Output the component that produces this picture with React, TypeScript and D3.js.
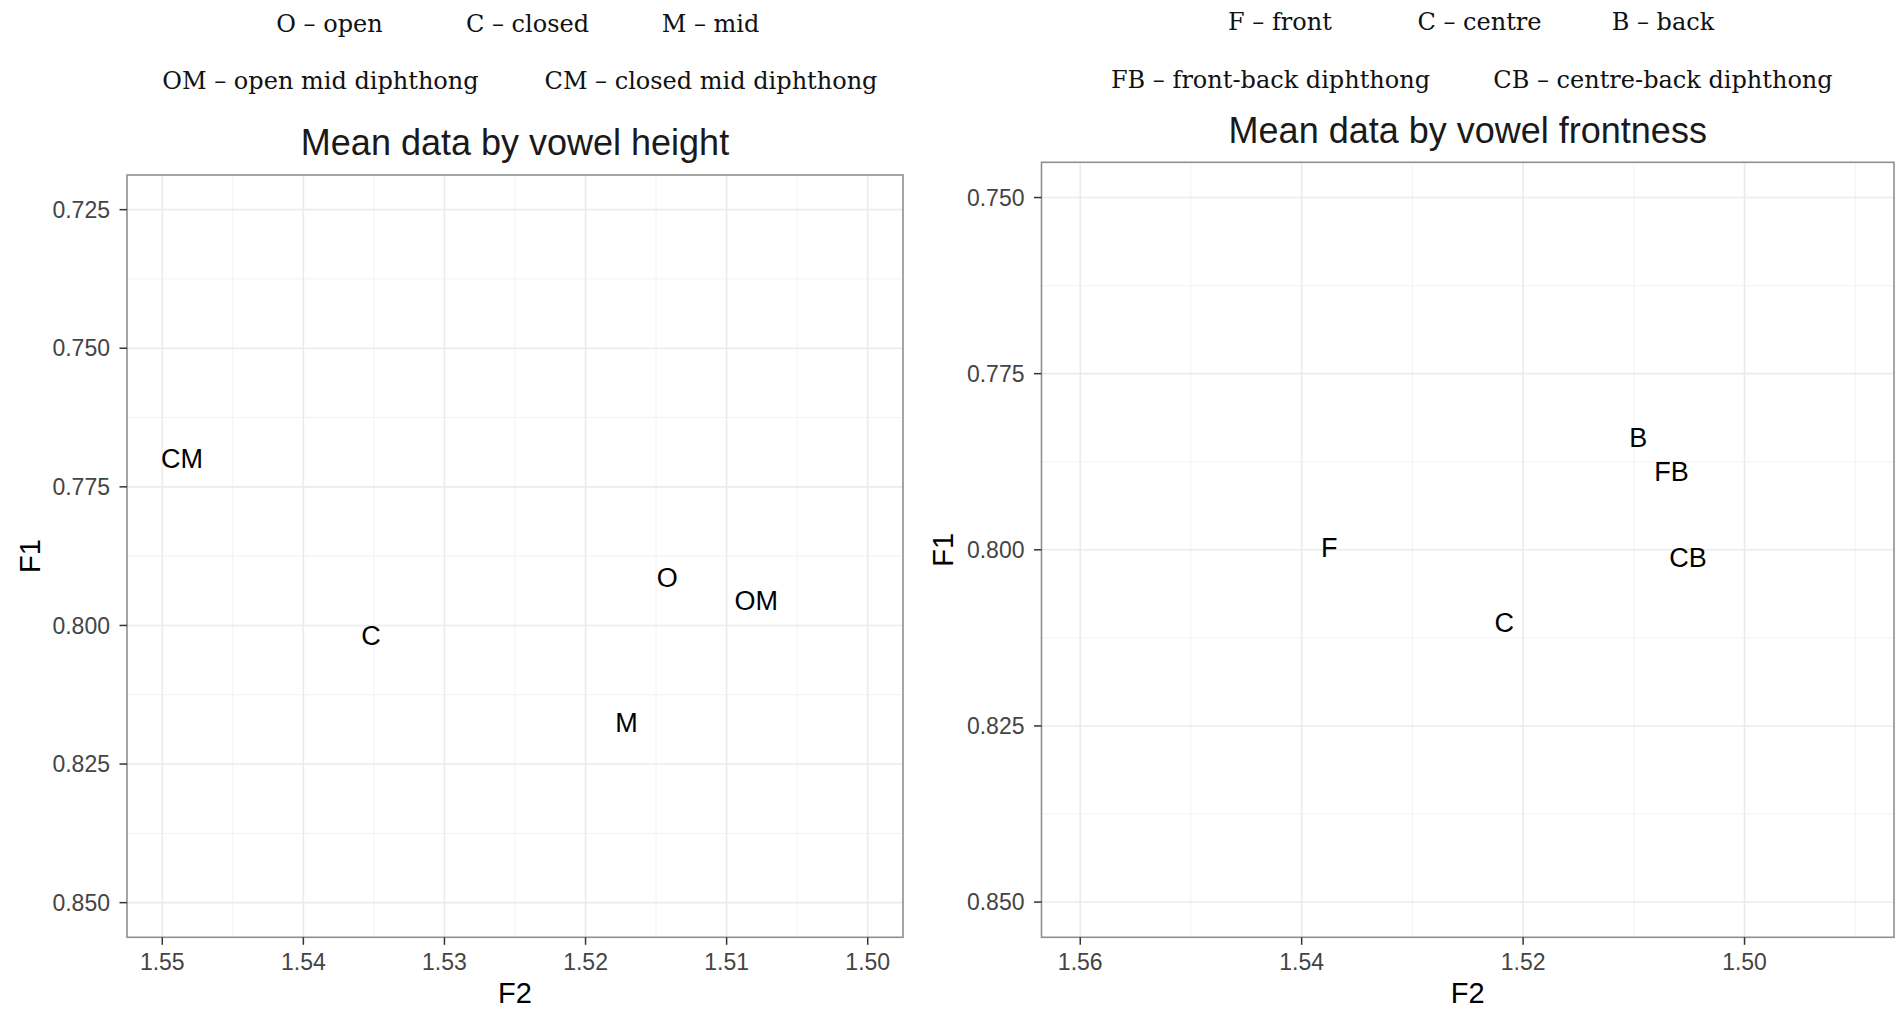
import React from "react";
import * as d3 from "d3";

// Vowel means by height category
const heightLabels = ["O", "C", "M", "OM", "CM"];
const heightF2 = [1.5142, 1.5352, 1.5171, 1.5079, 1.5486];
const heightF1 = [0.7914, 0.8018, 0.8174, 0.7954, 0.7699];

// Vowel means by frontness category
const frontLabels = ["F", "C", "B", "FB", "CB"];
const frontF2 = [1.5375, 1.5217, 1.5096, 1.5066, 1.5051];
const frontF1 = [0.7997, 0.8103, 0.784, 0.7889, 0.8011];

// Axis breaks
const heightXTicks = [1.55, 1.54, 1.53, 1.52, 1.51, 1.5];
const heightYTicks = [0.725, 0.75, 0.775, 0.8, 0.825, 0.85];
const frontXTicks = [1.56, 1.54, 1.52, 1.5];
const frontYTicks = [0.75, 0.775, 0.8, 0.825, 0.85];

// Key lines above each panel
const heightKeyRow1 = ["O – open", "C – closed", "M – mid"];
const heightKeyRow2 = ["OM – open mid diphthong", "CM – closed mid diphthong"];
const frontKeyRow1 = ["F – front", "C – centre", "B – back"];
const frontKeyRow2 = ["FB – front-back diphthong", "CB – centre-back diphthong"];

const titles = ["Mean data by vowel height", "Mean data by vowel frontness"];

const SANS = "'Liberation Sans', Arial, Helvetica, sans-serif";
const SERIF = "'DejaVu Serif', Georgia, serif";

function minorBreaks(major: number[], domain: [number, number]) {
  const step = major[1] - major[0];
  const lo = Math.min(domain[0], domain[1]);
  const hi = Math.max(domain[0], domain[1]);
  const out: number[] = [];
  const ext = [major[0] - step, ...major, major[major.length - 1] + step];
  for (let i = 0; i < ext.length - 1; i++) {
    const m = (ext[i] + ext[i + 1]) / 2;
    if (m > lo && m < hi) out.push(m);
  }
  return out;
}

type PanelProps = {
  xDomain: [number, number];
  yDomain: [number, number];
  left: number;
  right: number;
  top: number;
  bottom: number;
  xTicks: number[];
  yTicks: number[];
  labels: string[];
  xs: number[];
  ys: number[];
  title: string;
  titleY: number;
  yTitleX: number;
};

function Panel(p: PanelProps) {
  const x = d3.scaleLinear().domain(p.xDomain).range([p.left, p.right]);
  const y = d3.scaleLinear().domain(p.yDomain).range([p.top, p.bottom]);
  const xMinor = minorBreaks(p.xTicks, p.xDomain);
  const yMinor = minorBreaks(p.yTicks, p.yDomain);
  const fx = d3.format(".2f");
  const fy = d3.format(".3f");
  const tickLen = 7.5;
  const tickFont = 23;
  const labFont = 27;
  const cx = (p.left + p.right) / 2;
  const cy = (p.top + p.bottom) / 2;
  return (
    <g>
      <rect x={p.left} y={p.top} width={p.right - p.left} height={p.bottom - p.top} fill="#fff" />
      {xMinor.map((v) => (
        <line key={"xm" + v} x1={x(v)} x2={x(v)} y1={p.top} y2={p.bottom} stroke="#f2f2f2" strokeWidth={1} />
      ))}
      {yMinor.map((v) => (
        <line key={"ym" + v} x1={p.left} x2={p.right} y1={y(v)} y2={y(v)} stroke="#f2f2f2" strokeWidth={1} />
      ))}
      {p.xTicks.map((v) => (
        <line key={"xM" + v} x1={x(v)} x2={x(v)} y1={p.top} y2={p.bottom} stroke="#ebebeb" strokeWidth={1.6} />
      ))}
      {p.yTicks.map((v) => (
        <line key={"yM" + v} x1={p.left} x2={p.right} y1={y(v)} y2={y(v)} stroke="#ebebeb" strokeWidth={1.6} />
      ))}
      {p.labels.map((l, i) => (
        <text
          key={"lab" + i}
          x={x(p.xs[i])}
          y={y(p.ys[i]) + labFont * 0.358}
          textAnchor="middle"
          fontFamily={SANS}
          fontSize={labFont}
          fill="#000"
        >
          {l}
        </text>
      ))}
      <rect
        x={p.left}
        y={p.top}
        width={p.right - p.left}
        height={p.bottom - p.top}
        fill="none"
        stroke="#8f8f8f"
        strokeWidth={1.6}
      />
      {p.xTicks.map((v) => (
        <g key={"xt" + v}>
          <line x1={x(v)} x2={x(v)} y1={p.bottom} y2={p.bottom + tickLen} stroke="#333" strokeWidth={1.5} />
          <text
            x={x(v)}
            y={p.bottom + 33}
            textAnchor="middle"
            fontFamily={SANS}
            fontSize={tickFont}
            fill="#444"
          >
            {fx(v)}
          </text>
        </g>
      ))}
      {p.yTicks.map((v) => (
        <g key={"yt" + v}>
          <line x1={p.left - tickLen} x2={p.left} y1={y(v)} y2={y(v)} stroke="#333" strokeWidth={1.5} />
          <text
            x={p.left - 17}
            y={y(v) + tickFont * 0.358}
            textAnchor="end"
            fontFamily={SANS}
            fontSize={tickFont}
            fill="#444"
          >
            {fy(v)}
          </text>
        </g>
      ))}
      <text x={cx} y={1003} textAnchor="middle" fontFamily={SANS} fontSize={29} fill="#000">
        F2
      </text>
      <text
        transform={`translate(${p.yTitleX},${cy}) rotate(-90)`}
        textAnchor="middle"
        fontFamily={SANS}
        fontSize={29}
        fill="#000"
      >
        F1
      </text>
      <text x={cx} y={p.titleY} textAnchor="middle" fontFamily={SANS} fontSize={36} fill="#1a1a1a">
        {p.title}
      </text>
    </g>
  );
}

function KeyRow({ items, centers, y }: { items: string[]; centers: number[]; y: number }) {
  return (
    <g>
      {items.map((t, i) => (
        <text key={t} x={centers[i]} y={y} textAnchor="middle" fontFamily={SERIF} fontSize={24} fill="#111">
          {t}
        </text>
      ))}
    </g>
  );
}

export default function App() {
  return (
    <svg
      width={1899}
      height={1016}
      style={{ position: "absolute", left: 0, top: 0, background: "#fff" }}
    >
      <rect x={0} y={0} width={1899} height={1016} fill="#fff" />
      <KeyRow items={heightKeyRow1} centers={[329.5, 527.5, 710.5]} y={31.5} />
      <KeyRow items={heightKeyRow2} centers={[320.5, 711]} y={89.3} />
      <KeyRow items={frontKeyRow1} centers={[1280, 1479.5, 1663]} y={30} />
      <KeyRow items={frontKeyRow2} centers={[1270.5, 1663]} y={88} />
      <Panel
        xDomain={[1.5525, 1.4975]}
        yDomain={[0.71875, 0.85625]}
        left={127}
        right={903}
        top={175}
        bottom={937.3}
        xTicks={heightXTicks}
        yTicks={heightYTicks}
        labels={heightLabels}
        xs={heightF2}
        ys={heightF1}
        title={titles[0]}
        titleY={155}
        yTitleX={39.5}
      />
      <Panel
        xDomain={[1.5635, 1.4865]}
        yDomain={[0.745, 0.855]}
        left={1041.5}
        right={1894}
        top={162.3}
        bottom={937.3}
        xTicks={frontXTicks}
        yTicks={frontYTicks}
        labels={frontLabels}
        xs={frontF2}
        ys={frontF1}
        title={titles[1]}
        titleY={143}
        yTitleX={953}
      />
    </svg>
  );
}
